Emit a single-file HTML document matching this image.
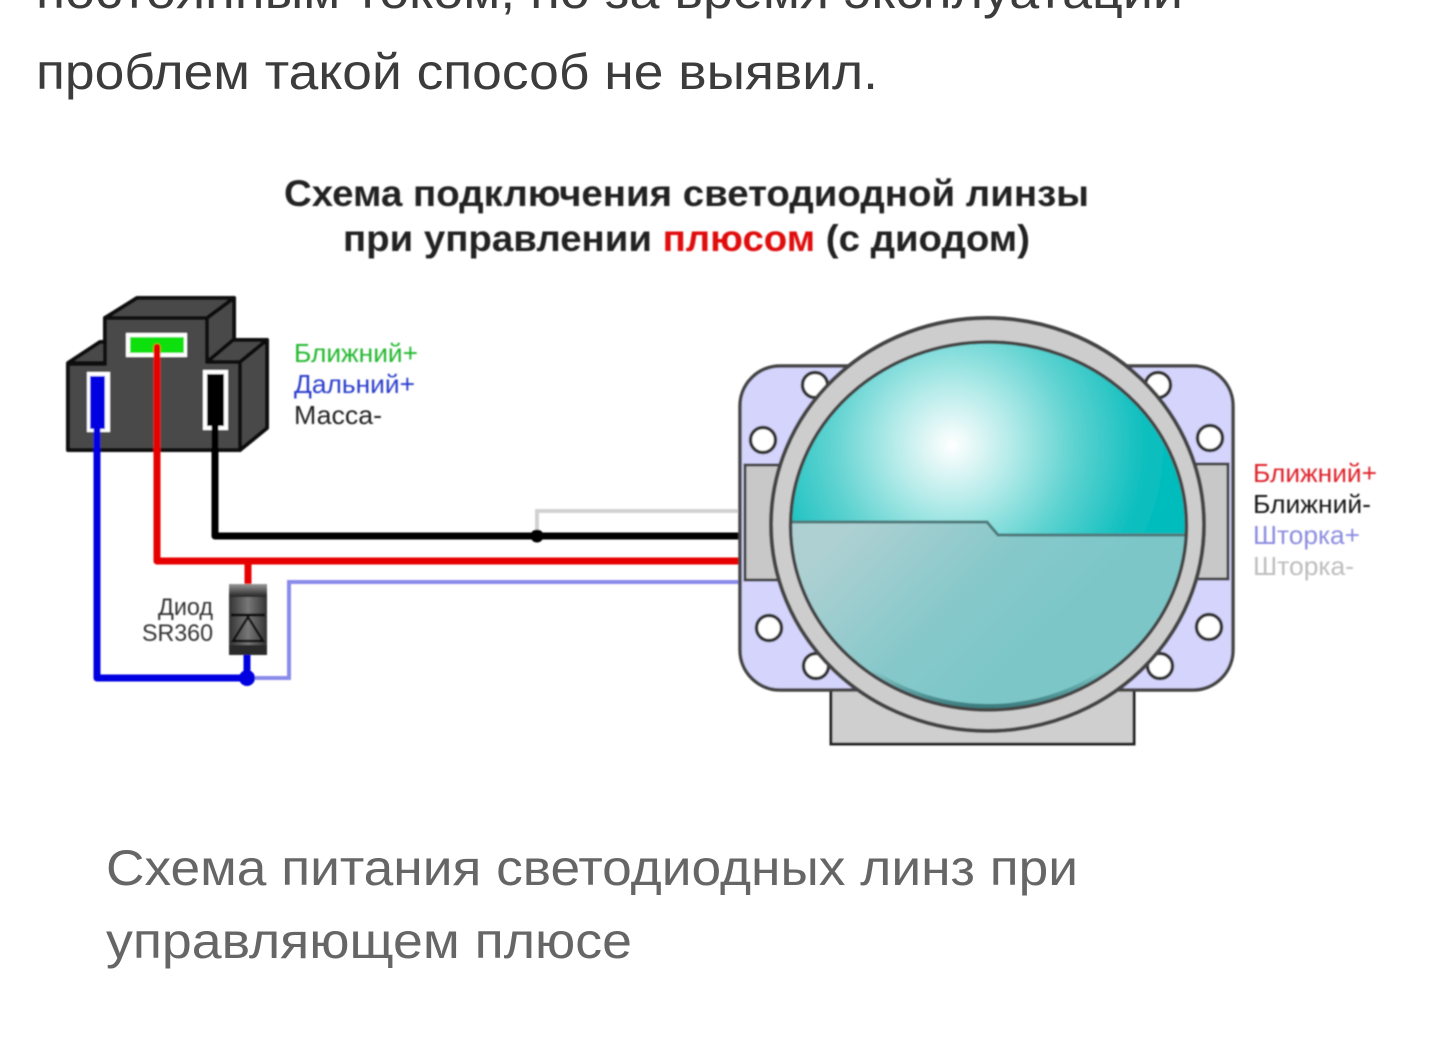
<!DOCTYPE html>
<html lang="ru"><head><meta charset="utf-8"><title>Схема</title>
<style>html,body{margin:0;padding:0;background:#fff;width:1440px;height:1049px;overflow:hidden}svg{display:block}text{font-family:"Liberation Sans",sans-serif}</style>
</head><body>
<svg width="1440" height="1049" viewBox="0 0 1440 1049" xmlns="http://www.w3.org/2000/svg">
<defs>
<radialGradient id="lens" gradientUnits="userSpaceOnUse" cx="952" cy="445" r="225">
<stop offset="0" stop-color="#ffffff"/><stop offset=".25" stop-color="#b8ecea"/><stop offset=".55" stop-color="#5cd2d0"/><stop offset=".85" stop-color="#10bfbf"/><stop offset="1" stop-color="#00bcbc"/>
</radialGradient>
<linearGradient id="low" gradientUnits="userSpaceOnUse" x1="850" y1="525" x2="1000" y2="680">
<stop offset="0" stop-color="#aed0d2"/><stop offset=".6" stop-color="#86c8ca"/><stop offset="1" stop-color="#7cc6c8"/>
</linearGradient>
<linearGradient id="dio" x1="0" x2="1" y1="0" y2="0">
<stop offset="0" stop-color="#333"/><stop offset=".5" stop-color="#777"/><stop offset="1" stop-color="#333"/>
</linearGradient>
<linearGradient id="dioT" x1="0" x2="0" y1="0" y2="1">
<stop offset="0" stop-color="#999"/><stop offset="1" stop-color="#222"/>
</linearGradient>
<linearGradient id="rim" gradientUnits="userSpaceOnUse" x1="0" y1="670" x2="0" y2="710">
<stop offset="0" stop-color="#2f6f70" stop-opacity="0"/><stop offset="1" stop-color="#2f6f70" stop-opacity=".9"/>
</linearGradient>
<clipPath id="inner"><ellipse cx="988.5" cy="526" rx="198" ry="184"/></clipPath>
<filter id="b" x="-2%" y="-2%" width="104%" height="104%"><feGaussianBlur stdDeviation=".7"/></filter>
</defs>

<g fill="#3c3c3c">
<text x="36" y="8" font-size="50" textLength="1147" lengthAdjust="spacingAndGlyphs">постоянным током, но за время эксплуатации</text>
<text x="36" y="89" font-size="50" textLength="842" lengthAdjust="spacingAndGlyphs">проблем такой способ не выявил.</text>
</g>

<g filter="url(#b)">
<text x="284" y="206" font-size="37" font-weight="700" fill="#222" textLength="805" lengthAdjust="spacingAndGlyphs">Схема подключения светодиодной линзы</text>
<text x="343" y="251" font-size="37" font-weight="700" fill="#222" textLength="687" lengthAdjust="spacingAndGlyphs">при управлении <tspan fill="#e01010">плюсом</tspan> (с диодом)</text>

<!-- wires behind connector -->
<polyline points="537,536 537,511 742,511" fill="none" stroke="#d2d2d2" stroke-width="4"/>
<polyline points="247,678 289,678 289,582 742,582" fill="none" stroke="#8a8aea" stroke-width="4"/>

<!-- connector -->
<g stroke="#111" stroke-width="4" stroke-linejoin="round">
<polygon points="68,363 100,342 110,342 110,363" fill="#4a4a4a"/>
<polygon points="105,318 137,298 234,298 207,318" fill="#4a4a4a"/>
<polygon points="207,318 234,298 234,342 207,362" fill="#4a4a4a"/>
<polygon points="207,362 233,340 267,340 240,362" fill="#4a4a4a"/>
<polygon points="240,362 267,340 267,428 240,450" fill="#4a4a4a"/>
<polygon points="68,364 105,364 105,318 207,318 207,362 240,362 240,450 68,450" fill="#4a4a4a"/>
</g>
<rect x="126" y="333" width="61" height="24" fill="#fff"/>
<rect x="130" y="337" width="54" height="16" fill="#11e011"/>
<rect x="87" y="372" width="23" height="60" fill="#fff"/>
<rect x="90" y="376" width="15" height="53" fill="#0000e0"/>
<rect x="203" y="370" width="25" height="60" fill="#fff"/>
<rect x="207" y="374" width="17" height="52" fill="#000"/>

<!-- wires -->
<polyline points="215,420 215,536 742,536" fill="none" stroke="#000" stroke-width="7" stroke-linejoin="round"/>
<circle cx="537" cy="536" r="6.5" fill="#000"/>
<polyline points="157,347 157,561 742,561" fill="none" stroke="#e60000" stroke-width="7" stroke-linejoin="round" stroke-linecap="round"/>
<line x1="248" y1="561" x2="248" y2="586" stroke="#e60000" stroke-width="7"/>
<polyline points="97,425 97,678 247,678" fill="none" stroke="#0000e0" stroke-width="7" stroke-linejoin="round"/>
<line x1="247" y1="652" x2="247" y2="678" stroke="#0000e0" stroke-width="7"/>
<circle cx="247" cy="678" r="8" fill="#0000e0"/>

<!-- diode -->
<rect x="229" y="584" width="38" height="71" fill="url(#dio)"/>
<rect x="229" y="584" width="38" height="13" fill="url(#dioT)"/>
<line x1="231" y1="615" x2="265" y2="615" stroke="#111" stroke-width="3"/>
<polygon points="248,617 263,641 233,641" fill="none" stroke="#111" stroke-width="2.5"/>
<rect x="229" y="645" width="38" height="10" fill="#2a2a2a"/>
<text x="213" y="615" font-size="24" text-anchor="end" fill="#333" textLength="55" lengthAdjust="spacingAndGlyphs">Диод</text>
<text x="213" y="641" font-size="24" text-anchor="end" fill="#333" textLength="71" lengthAdjust="spacingAndGlyphs">SR360</text>

<!-- labels -->
<g font-size="26">
<text x="294" y="362" fill="#22b82e" textLength="124" lengthAdjust="spacingAndGlyphs">Ближний+</text>
<text x="294" y="393" fill="#2a3ccc" textLength="121" lengthAdjust="spacingAndGlyphs">Дальний+</text>
<text x="294" y="424" fill="#222" textLength="88" lengthAdjust="spacingAndGlyphs">Масса-</text>
<text x="1253" y="482" fill="#e0202a" textLength="124" lengthAdjust="spacingAndGlyphs">Ближний+</text>
<text x="1253" y="513" fill="#151515" textLength="118" lengthAdjust="spacingAndGlyphs">Ближний-</text>
<text x="1253" y="544" fill="#8c8ce0" textLength="107" lengthAdjust="spacingAndGlyphs">Шторка+</text>
<text x="1253" y="575" fill="#bdbdbd" textLength="101" lengthAdjust="spacingAndGlyphs">Шторка-</text>
</g>

<!-- lens unit -->
<rect x="831" y="660" width="303" height="84" fill="#cfcfcf" stroke="#222" stroke-width="3"/>
<rect x="740" y="366" width="493" height="324" rx="40" ry="40" fill="#d4d4fc" stroke="#444" stroke-width="3.5"/>
<rect x="745" y="465" width="50" height="115" fill="#c8c8c8" stroke="#444" stroke-width="3"/>
<rect x="1180" y="464" width="48" height="115" fill="#c8c8c8" stroke="#444" stroke-width="3"/>
<g fill="#fff" stroke="#333" stroke-width="3.5">
<circle cx="763" cy="440" r="12.5"/><circle cx="769" cy="628" r="12.5"/>
<circle cx="815" cy="385" r="12.5"/><circle cx="816" cy="666" r="12.5"/>
<circle cx="1158" cy="385" r="12.5"/><circle cx="1160" cy="666" r="12.5"/>
<circle cx="1210" cy="438" r="12.5"/><circle cx="1209" cy="627" r="12.5"/>
</g>
<ellipse cx="987.5" cy="524.5" rx="216.5" ry="206.5" fill="#cdcdcd" stroke="#444" stroke-width="4"/>
<g clip-path="url(#inner)">
<rect x="780" y="330" width="420" height="390" fill="url(#lens)"/>
<polygon points="780,522 987,522 998,535 1200,535 1200,720 780,720" fill="url(#low)"/>
<polyline points="780,522 987,522 998,535 1200,535" fill="none" stroke="#4f7a7c" stroke-width="3"/>
<ellipse cx="988.5" cy="523" rx="198" ry="184" fill="none" stroke="url(#rim)" stroke-width="6"/>
</g>
<ellipse cx="988.5" cy="526" rx="198" ry="184" fill="none" stroke="#444" stroke-width="3.5"/>
</g>

<g fill="#666">
<text x="106" y="885" font-size="50" textLength="972" lengthAdjust="spacingAndGlyphs">Схема питания светодиодных линз при</text>
<text x="106" y="958" font-size="50" textLength="526" lengthAdjust="spacingAndGlyphs">управляющем плюсе</text>
</g>
</svg>
</body></html>
